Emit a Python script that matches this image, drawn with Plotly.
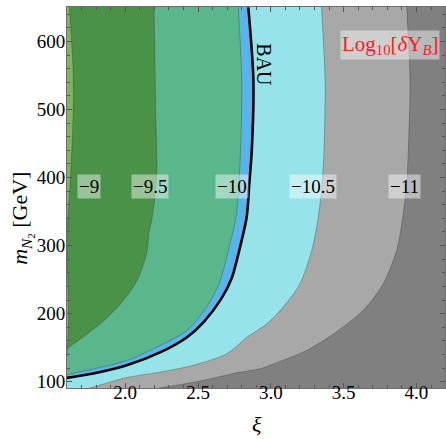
import plotly.graph_objects as go

X_RANGE = [1.6, 4.196]
Y_RANGE = [90.7, 650.7]

# contour boundaries: (xi, m_N2), listed top -> bottom/left
c9_x = [1.617, 1.641, 1.643, 1.625, 1.600]
c9_y = [651, 562, 499, 402, 322]
c95_x = [2.198, 2.209, 2.216, 2.182, 2.165, 2.147, 2.079, 1.970, 1.850, 1.750, 1.598]
c95_y = [651, 499, 402, 337, 322, 289, 248, 215, 189, 172, 148]
c10_x = [2.777, 2.800, 2.792, 2.761, 2.708, 2.650, 2.560, 2.422, 2.239, 2.010, 1.598]
c10_y = [651, 544, 440, 342, 293, 247, 210, 175, 153, 131, 110]
bau_x = [2.845, 2.880, 2.869, 2.852, 2.834, 2.783, 2.731, 2.660, 2.540, 2.422, 2.239, 2.010, 1.781, 1.598]
bau_y = [650, 544, 440, 391, 342, 293, 252, 222, 188, 165, 143, 124, 112, 105.5]
c105_x = [3.348, 3.372, 3.365, 3.352, 3.326, 3.281, 3.200, 3.086, 2.972, 2.834, 2.697, 2.467, 2.239, 2.010, 1.758]
c105_y = [651, 544, 440, 391, 342, 293, 244, 210, 185, 165, 141, 124, 114, 106, 90.7]
c11_x = [3.933, 3.956, 3.944, 3.933, 3.906, 3.864, 3.772, 3.635, 3.429, 3.246, 3.017, 2.926, 2.766, 2.600, 2.467, 2.239]
c11_y = [651, 544, 440, 391, 342, 293, 244, 205, 170, 146, 126, 119, 113, 105, 99, 90.7]

level_labels = ["\u22129", "\u22129.5", "\u221210", "\u221210.5", "\u221211"]
label_x = [1.751, 2.168, 2.732, 3.292, 3.920]
label_y = 387.5

FONT = "Liberation Serif"


def region(bx, by):
    """Polygon covering everything to the upper-left of a boundary."""
    k = 3.0
    sx = bx[0] + (bx[0] - bx[1]) * k
    sy = by[0] + (by[0] - by[1]) * k
    ex = bx[-1] + (bx[-1] - bx[-2]) * k
    ey = by[-1] + (by[-1] - by[-2]) * k
    far_l = X_RANGE[0] - 1.0
    far_b = Y_RANGE[0] - 100
    far_t = Y_RANGE[1] + 200
    xs = [sx] + list(bx) + [ex, far_l, far_l, sx]
    ys = [sy] + list(by) + [ey, far_b, far_t, sy]
    return xs, ys


fig = go.Figure()

layers = [
    (c11_x, c11_y, "#a8a8a8"),
    (c105_x, c105_y, "#97e3ea"),
    (bau_x, bau_y, "#5ab4ec"),
    (c10_x, c10_y, "#59b78b"),
    (c95_x, c95_y, "#4a9248"),
    (c9_x, c9_y, "#7cb956"),
]
for bx, by, col in layers:
    xs, ys = region(bx, by)
    fig.add_trace(go.Scatter(
        x=xs, y=ys, mode="lines", fill="toself", fillcolor=col,
        line=dict(color="rgba(40,40,40,0.45)", width=0.7, shape="spline", smoothing=0.8),
        hoverinfo="skip", showlegend=False))

fig.add_trace(go.Scatter(
    x=bau_x, y=bau_y, mode="lines",
    line=dict(color="black", width=2.6, shape="spline", smoothing=0.8),
    hoverinfo="skip", showlegend=False))

annotations = []
for t, lx in zip(level_labels, label_x):
    annotations.append(dict(
        x=lx, y=label_y, xref="x", yref="y", text=t, showarrow=False,
        font=dict(family=FONT, size=19, color="black"),
        bgcolor="rgba(255,255,255,0.45)", borderpad=1))

annotations.append(dict(
    x=2.955, y=566, xref="x", yref="y", text="BAU", showarrow=False, textangle=90,
    font=dict(family=FONT, size=20, color="black")))
annotations.append(dict(
    x=4.163, y=0.90, xref="x", yref="paper", xanchor="right", yanchor="middle",
    text="Log<sub>10</sub>[<i>\u03b4</i>Y<sub><i>B</i></sub>]", showarrow=False,
    font=dict(family=FONT, size=21, color="#ff1a1a"),
    bgcolor="rgba(255,255,255,0.45)", borderpad=1))
annotations.append(dict(
    x=0.502, y=-0.097, xref="paper", yref="paper", text="<i>\u03be</i>", showarrow=False,
    yanchor="middle", font=dict(family=FONT, size=22, color="black")))
annotations.append(dict(
    x=-0.163, y=0.445, xref="paper", yref="paper",
    text="<i>m</i><sub><i>N</i><sub>2</sub></sub> [GeV]", showarrow=False,
    textangle=-90, font=dict(family=FONT, size=22, color="black")))

axis_common = dict(
    showgrid=False, zeroline=False, showline=True, linecolor="#6e6e6e", linewidth=1,
    mirror="ticks", ticks="inside", ticklen=5, tickcolor="#555", tickwidth=1,
    tickfont=dict(family=FONT, size=19, color="black"),
)

fig.update_layout(
    width=446, height=439,
    margin=dict(l=67, r=1, t=7, b=51),
    paper_bgcolor="white", plot_bgcolor="#808080",
    xaxis=dict(range=X_RANGE, tickvals=[2.0, 2.5, 3.0, 3.5, 4.0],
               ticktext=["2.0", "2.5", "3.0", "3.5", "4.0"], ticklabelstandoff=-13,
               minor=dict(dtick=0.1, ticks="inside", ticklen=3, tickcolor="#555", showgrid=False),
               **axis_common),
    yaxis=dict(range=Y_RANGE, tickvals=[100, 200, 300, 400, 500, 600], ticklabelstandoff=-3,
               minor=dict(dtick=20, ticks="inside", ticklen=3, tickcolor="#555", showgrid=False),
               **axis_common),
    annotations=annotations,
)

fig.write_html("out.html")
